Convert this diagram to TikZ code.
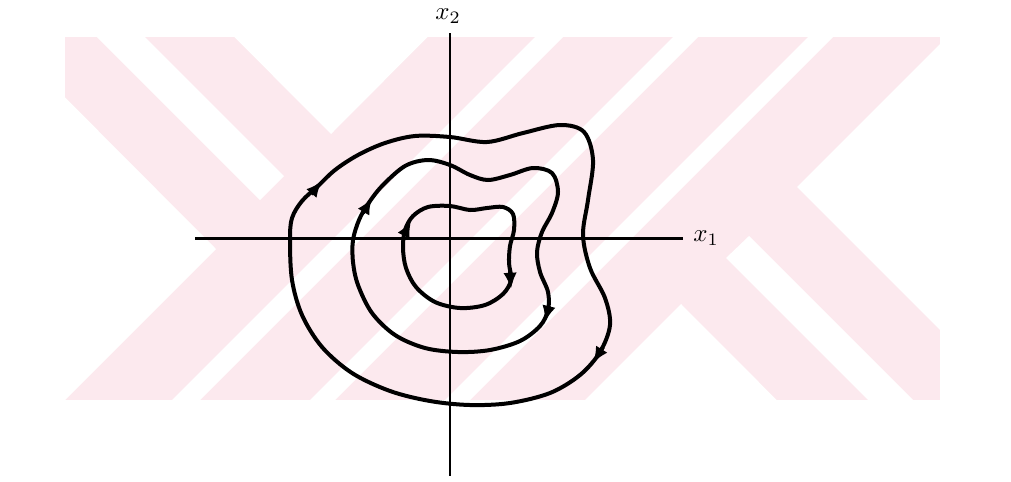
\documentclass[tikz,border=0pt]{standalone}
\usepackage{amsmath}
\usetikzlibrary{arrows.meta}
\definecolor{wmpink}{RGB}{252,233,238}
\def \ox{450}
\def \oy{238}

\tikzset{
  axisline/.style={line width=0.9pt},
  orbit/.style={line width=1.6pt, line join=round},
  flowtip/.style={line width=1.6pt, -{Latex[length=6.5pt,width=5.4pt]}},
}

\begin{document}
\begin{tikzpicture}[x=0.4pt, y=-0.4pt]
    \useasboundingbox (0,0) rectangle (1011,481);

    % background stripes
    \begin{scope}
      \clip (65,37) rectangle (940,400);
      \fill[wmpink] (65,37) rectangle (940,400);
      \fill[white] (260,200) -- (284,176) -- (-46,-154) -- (-70,-130) -- cycle;
      \fill[white] (331,134) -- (99,-99) -- (532,-68) -- cycle;
      \fill[white] (216,249) -- (-16,16) -- (-68,533) -- cycle;
      \fill[white] (672,-100) -- (700,-100) -- (0,600) -- (-28,600) -- cycle;
      \fill[white] (810,-100) -- (835,-100) -- (135,600) -- (110,600) -- cycle;
      \fill[white] (945,-100) -- (970,-100) -- (270,600) -- (245,600) -- cycle;
      \fill[white] (681,304) -- (988,612) -- (342,643) -- cycle;
      \fill[white] (726,258) -- (749,236) -- (1056,543) -- (1034,566) -- cycle;
      \fill[white] (797,187) -- (1105,495) -- (1092,-108) -- cycle;
    \end{scope}

    % axes
    \coordinate (L) at (195,\oy);
    \coordinate (R) at (683,\oy);
    \coordinate (T) at (\ox,33);
    \coordinate (B) at (\ox,476);
    \draw[axisline, line width=1.2pt] (L) -- (R);
    \draw[axisline] (T) -- (B);
    \node (X1) at (706,238) {$x_1$};
    \node (X2) at (448,16) {$x_2$};

    % trajectories
    \draw[orbit] plot[smooth cycle, tension=0.55] coordinates {(290,240) (292,218)
      (302,201) (317,187) (335,170) (358,155) (385,143) (415,136) (450,137)
      (487,142) (523,133) (560,125) (584,132) (593,160) (588,200) (583,235)
      (590,268) (605,298) (610,325) (600,352) (580,375) (550,393) (510,403)
      (470,405) (430,401) (390,391) (352,373) (322,347) (302,315) (292,280)};
    \draw[orbit] plot[smooth cycle, tension=0.55] coordinates {(353,240) (359,220)
      (368,204) (382,186) (405,166) (428,160) (450,165) (470,175) (488,180)
      (510,175) (533,168) (552,173) (558,192) (552,213) (542,232) (537,252)
      (540,272) (548,292) (548,310) (540,326) (520,341) (490,350) (458,352)
      (425,348) (395,335) (372,313) (358,285) (353,262)};
    \draw[orbit] plot[smooth cycle, tension=0.55] coordinates {(403,248) (405,230)
      (413,216) (428,207) (450,206) (470,210) (487,208) (503,207) (513,214)
      (514,230) (510,246) (509,263) (511,280) (503,294) (485,305) (460,308)
      (435,302) (416,287) (406,268)};

    % direction of flow
    \draw[flowtip] (311,194) -- (322,181);
    \draw[flowtip] (603,347) -- (593,363);
    \draw[flowtip] (363,213) -- (372,198);
    \draw[flowtip] (549,306) -- (545,322);
    \draw[flowtip] (404,235) -- (411,221);
    \draw[flowtip] (510,271) -- (511,289);
\end{tikzpicture}
\end{document}
